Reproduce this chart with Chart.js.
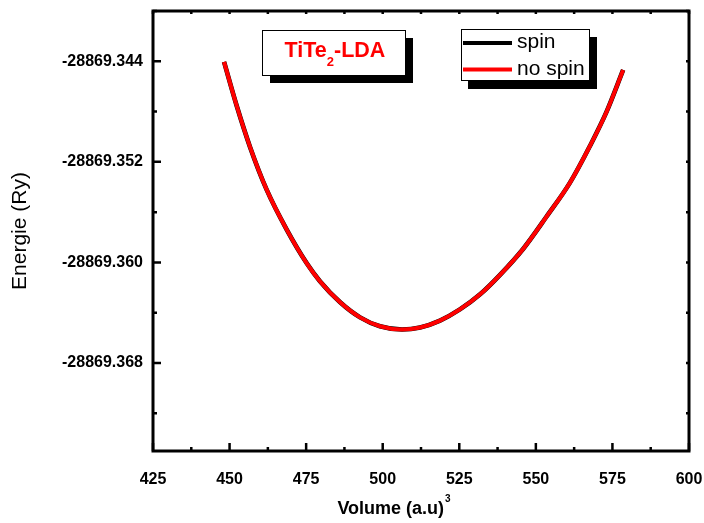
<!DOCTYPE html>
<html>
<head>
<meta charset="utf-8">
<script src="https://cdn.jsdelivr.net/npm/chart.js@4/dist/chart.umd.min.js"></script>
<style>
  body { margin: 0; background: #fff; }
  canvas { display: block; }
</style>
</head>
<body>
<canvas id="graficoEnergie" width="704" height="523"></canvas>
<script>
// volume (a.u)^3 et energie (Ry)
const volume = [448.2, 452.3, 456.7, 462.1, 468.7, 475.2, 479.5, 486.1, 492.6, 499.1, 506.3,
                512.2, 518.7, 525.2, 531.8, 538.3, 545.9, 553.5, 561.1, 567.7, 573.1, 578.5];
const energieSpin = [-28869.34405, -28869.34752, -28869.35083, -28869.35421, -28869.35741,
                     -28869.36007, -28869.36149, -28869.36317, -28869.36437, -28869.36508,
                     -28869.36534, -28869.36518, -28869.36463, -28869.36374, -28869.36254,
                     -28869.36099, -28869.35891, -28869.35635, -28869.35367, -28869.35072,
                     -28869.34801, -28869.34469];
const energieNoSpin = [-28869.34405, -28869.34752, -28869.35083, -28869.35421, -28869.35741,
                       -28869.36007, -28869.36149, -28869.36317, -28869.36437, -28869.36508,
                       -28869.36534, -28869.36518, -28869.36463, -28869.36374, -28869.36254,
                       -28869.36099, -28869.35891, -28869.35635, -28869.35367, -28869.35072,
                       -28869.34801, -28869.34469];
const xTicks = [425, 450, 475, 500, 525, 550, 575, 600];
const xMinor = [437.5, 462.5, 487.5, 512.5, 537.5, 562.5, 587.5];
const yTicks = [-28869.368, -28869.360, -28869.352, -28869.344];
const yMinor = [-28869.372, -28869.364, -28869.356, -28869.348, -28869.340];

const FONT = '"Liberation Sans", Arial, sans-serif';

// cadre, graduations vers l'interieur, boite titre et legende
const cadrePlugin = {
  id: 'cadre',
  afterDatasetsDraw(chart) {
    const c = chart.ctx;
    const a = chart.chartArea;
    const sx = chart.scales.x, sy = chart.scales.y;
    c.save();
    c.strokeStyle = '#000';
    c.lineWidth = 3;
    c.strokeRect(a.left, a.top, a.right - a.left, a.bottom - a.top);

    c.lineWidth = 2.5;
    c.beginPath();
    xTicks.forEach(v => {
      const px = sx.getPixelForValue(v);
      c.moveTo(px, a.bottom); c.lineTo(px, a.bottom - 8);
      c.moveTo(px, a.top); c.lineTo(px, a.top + 3);
    });
    xMinor.forEach(v => {
      const px = sx.getPixelForValue(v);
      c.moveTo(px, a.bottom); c.lineTo(px, a.bottom - 4);
      c.moveTo(px, a.top); c.lineTo(px, a.top + 3);
    });
    yTicks.forEach(v => {
      const py = sy.getPixelForValue(v);
      c.moveTo(a.left, py); c.lineTo(a.left + 8, py);
      c.moveTo(a.right, py); c.lineTo(a.right - 3, py);
    });
    yMinor.forEach(v => {
      const py = sy.getPixelForValue(v);
      c.moveTo(a.left, py); c.lineTo(a.left + 4, py);
      c.moveTo(a.right, py); c.lineTo(a.right - 3, py);
    });
    c.stroke();

    // boite du titre
    c.fillStyle = '#000';
    c.fillRect(270, 38, 143, 45);
    c.fillStyle = '#fff';
    c.fillRect(262, 30, 143, 45);
    c.lineWidth = 1;
    c.strokeRect(262.5, 30.5, 143, 45);
    c.fillStyle = '#ff0000';
    c.textBaseline = 'alphabetic';
    c.textAlign = 'left';
    c.font = 'bold 21.5px ' + FONT;
    const w1 = c.measureText('TiTe').width;
    const w3 = c.measureText('-LDA').width;
    c.font = 'bold 13px ' + FONT;
    const w2 = c.measureText('2').width;
    let tx = 335 - (w1 + w2 + w3) / 2;
    c.font = 'bold 21.5px ' + FONT;
    c.fillText('TiTe', tx, 57);
    c.font = 'bold 13px ' + FONT;
    c.fillText('2', tx + w1, 66);
    c.font = 'bold 21.5px ' + FONT;
    c.fillText('-LDA', tx + w1 + w2, 57);

    // legende
    c.fillStyle = '#000';
    c.fillRect(468, 37, 129, 52);
    c.fillStyle = '#fff';
    c.fillRect(461, 29, 129, 52);
    c.strokeStyle = '#000';
    c.lineWidth = 1;
    c.strokeRect(461.5, 29.5, 128, 51);
    const rows = [43, 69.5];
    chart.data.datasets.forEach((ds, i) => {
      c.strokeStyle = ds.borderColor;
      c.lineWidth = 4;
      c.beginPath();
      c.moveTo(463, rows[i]); c.lineTo(512, rows[i]);
      c.stroke();
      c.fillStyle = '#000';
      c.font = '21px ' + FONT;
      c.fillText(ds.label, 517, rows[i] + 5);
    });

    // titre de l'axe x avec exposant
    c.fillStyle = '#000';
    c.font = 'bold 18px ' + FONT;
    const wv = c.measureText('Volume (a.u)').width;
    c.font = 'bold 10px ' + FONT;
    const we = c.measureText('3').width;
    const x0 = 394 - (wv + we + 1) / 2;
    c.font = 'bold 18px ' + FONT;
    c.fillText('Volume (a.u)', x0, 514);
    c.font = 'bold 10px ' + FONT;
    c.fillText('3', x0 + wv + 1, 502);
    c.restore();
  }
};

const ctx = document.getElementById('graficoEnergie').getContext('2d');

new Chart(ctx, {
  type: 'line',
  data: {
    datasets: [{
      label: 'spin',
      data: volume.map((v, i) => ({ x: v, y: energieSpin[i] })),
      borderColor: '#000000',
      borderWidth: 4.6,
      pointRadius: 0,
      cubicInterpolationMode: 'monotone',
      fill: false,
      order: 2
    },
    {
      label: 'no spin',
      data: volume.map((v, i) => ({ x: v, y: energieNoSpin[i] })),
      borderColor: '#ff0000',
      borderWidth: 4,
      pointRadius: 0,
      cubicInterpolationMode: 'monotone',
      fill: false,
      order: 1
    }]
  },
  options: {
    responsive: false,
    animation: false,
    layout: { padding: { left: 0, top: 11, right: 15, bottom: 0 } },
    plugins: {
      legend: { display: false },
      tooltip: { enabled: false }
    },
    scales: {
      x: {
        type: 'linear',
        min: 425,
        max: 600,
        afterFit: s => { s.height = 72; s.paddingLeft = 0; s.paddingRight = 0; },
        afterBuildTicks: s => { s.ticks = xTicks.map(v => ({ value: v })); },
        grid: { display: false, drawTicks: false },
        border: { display: false },
        ticks: {
          autoSkip: false,
          maxRotation: 0,
          padding: 19,
          color: '#000',
          font: { family: FONT, size: 16, weight: 'bold' },
          callback: v => String(v)
        },
        title: { display: false }
      },
      y: {
        type: 'linear',
        min: -28869.375,
        max: -28869.340,
        afterFit: s => { s.width = 153; s.paddingTop = 0; s.paddingBottom = 0; },
        afterBuildTicks: s => { s.ticks = yTicks.map(v => ({ value: v })); },
        grid: { display: false, drawTicks: false },
        border: { display: false },
        ticks: {
          padding: 10,
          color: '#000',
          font: { family: FONT, size: 16, weight: 'bold' },
          callback: v => Number(v).toFixed(3)
        },
        title: {
          display: true,
          text: 'Energie (Ry)',
          color: '#000',
          padding: { top: 8, bottom: 0 },
          font: { family: FONT, size: 21 }
        }
      }
    }
  },
  plugins: [cadrePlugin]
});
</script>
</body>
</html>
